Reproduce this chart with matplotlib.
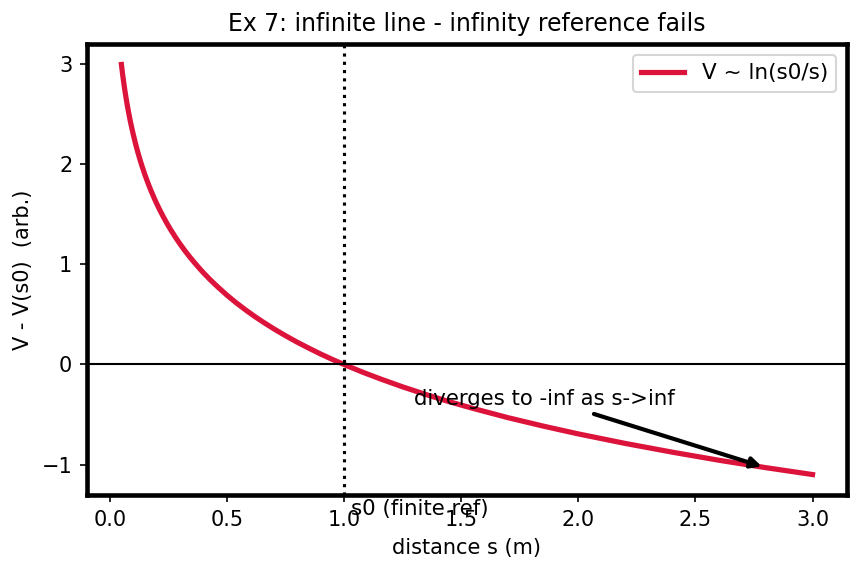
import matplotlib
matplotlib.use("Agg")
import matplotlib.pyplot as plt

# distance samples (m) and potential relative to s0
s_vals = [0.050, 0.055, 0.060, 0.065, 0.070, 0.075, 0.080, 0.085, 0.090,
          0.095, 0.100, 0.110, 0.120, 0.130, 0.140, 0.150, 0.160, 0.170,
          0.180, 0.190, 0.200, 0.215, 0.230, 0.245, 0.260, 0.280, 0.300,
          0.320, 0.340, 0.360, 0.380, 0.400, 0.430, 0.460, 0.500, 0.540,
          0.580, 0.620, 0.660, 0.700, 0.750, 0.800, 0.850, 0.900, 0.950,
          1.000, 1.080, 1.160, 1.250, 1.350, 1.450, 1.550, 1.700, 1.850,
          2.000, 2.200, 2.400, 2.600, 2.800, 3.000]
v_vals = [2.996, 2.900, 2.813, 2.733, 2.659, 2.590, 2.526, 2.465, 2.408,
          2.354, 2.303, 2.207, 2.120, 2.040, 1.966, 1.897, 1.833, 1.772,
          1.715, 1.661, 1.609, 1.537, 1.470, 1.406, 1.347, 1.273, 1.204,
          1.139, 1.079, 1.022, 0.968, 0.916, 0.844, 0.777, 0.693, 0.616,
          0.545, 0.478, 0.416, 0.357, 0.288, 0.223, 0.163, 0.105, 0.051,
          0.000, -0.077, -0.148, -0.223, -0.300, -0.372, -0.438, -0.531, -0.615,
          -0.693, -0.788, -0.875, -0.956, -1.030, -1.099]

s0 = 1.0
arrow_tip = (2.8, -1.03)
text_pos = (1.3, -0.4)

fig = plt.figure(figsize=(860 / 150, 571 / 150), dpi=150)
ax = fig.add_axes([0.101, 0.133, 0.884, 0.79])

ax.plot(s_vals, v_vals, color="crimson", lw=2.5, label="V ~ ln(s0/s)")
ax.axhline(0, color="black", lw=1)
ax.axvline(s0, color="black", lw=1.5, ls=":")
ax.text(s0 + 0.03, -1.5, "s0 (finite ref)", fontsize=10.2, clip_on=False)
ax.annotate("diverges to -inf as s->inf", xy=arrow_tip, xytext=text_pos,
            fontsize=10.2,
            arrowprops=dict(arrowstyle="-|>", color="black", lw=2))

for sp in ax.spines.values():
    sp.set_linewidth(2.2)

ax.set_title("Ex 7: infinite line - infinity reference fails", fontsize=11.3)
ax.set_xlabel("distance s (m)")
ax.set_ylabel("V - V(s0)  (arb.)")
ax.legend(loc="upper right", fontsize=10.3)

fig.savefig("out.png", dpi=150)
